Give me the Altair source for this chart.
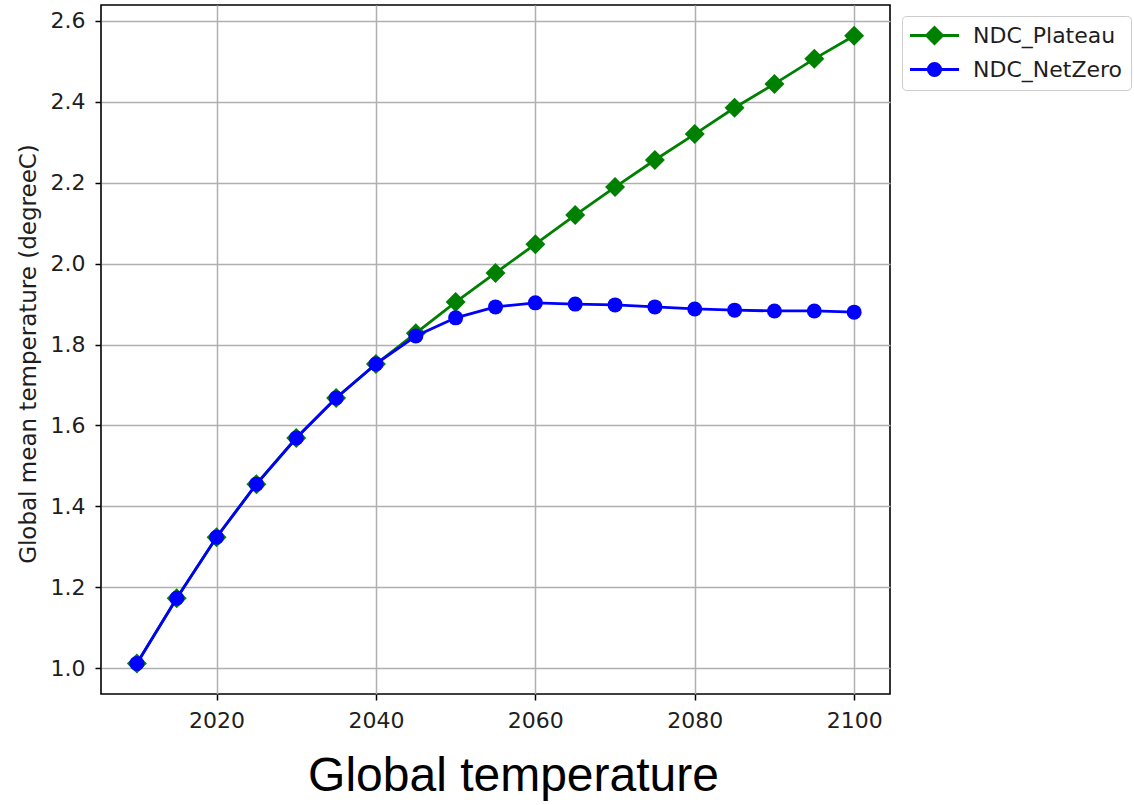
import altair as alt
import pandas as pd

years = [2010, 2015, 2020, 2025, 2030, 2035, 2040, 2045, 2050, 2055,
         2060, 2065, 2070, 2075, 2080, 2085, 2090, 2095, 2100]
plateau = [1.012, 1.173, 1.324, 1.455, 1.569, 1.668, 1.752, 1.828, 1.905, 1.977,
           2.048, 2.120, 2.189, 2.256, 2.320, 2.385, 2.444, 2.506, 2.563]
netzero = [1.012, 1.173, 1.324, 1.455, 1.569, 1.668, 1.752, 1.821, 1.866, 1.893,
           1.903, 1.900, 1.898, 1.893, 1.888, 1.885, 1.883, 1.883, 1.880]
series_names = ["NDC_Plateau", "NDC_NetZero"]
series_colors = ["green", "blue"]
x_ticks = [2020, 2040, 2060, 2080, 2100]
y_ticks = [1.0, 1.2, 1.4, 1.6, 1.8, 2.0, 2.2, 2.4, 2.6]

# legend glyphs: short line with the marker in its middle
legend_shapes = [
    "M-2.45,0H2.45M0,-0.8L0.8,0L0,0.8L-0.8,0Z",
    "M-2.45,0H2.45M0.62,0A0.62,0.62,0,1,1,-0.62,0A0.62,0.62,0,1,1,0.62,0Z",
]

df = pd.DataFrame({
    "year": years * 2,
    "temp": plateau + netzero,
    "series": [series_names[0]] * len(years) + [series_names[1]] * len(years),
})

FONT = "DejaVu Sans"
LABEL_COLOR = "#1e1e1e"

x = alt.X(
    "year:Q",
    scale=alt.Scale(domain=[2005.5, 2104.5], nice=False, zero=False),
    axis=alt.Axis(
        values=x_ticks, format="d", grid=True, domain=False,
        tickSize=6, tickWidth=1.5, tickColor="black",
        labelFont=FONT, labelFontSize=22, labelColor=LABEL_COLOR, labelPadding=10,
        labelFlush=False,
        title="Global temperature", titleFont="Liberation Sans", titleFontSize=48,
        titleFontWeight="normal", titleColor="black",
        titleX=412, titleY=96, titleAlign="center", titleBaseline="alphabetic",
    ),
)
y = alt.Y(
    "temp:Q",
    scale=alt.Scale(domain=[0.9365, 2.639], nice=False, zero=False),
    axis=alt.Axis(
        values=y_ticks, format=".1f", grid=True, domain=False,
        tickSize=6, tickWidth=1.5, tickColor="black",
        labelFont=FONT, labelFontSize=22, labelColor=LABEL_COLOR, labelPadding=10,
        labelFlush=False,
        title="Global mean temperature (degreeC)", titleFont=FONT, titleFontSize=23,
        titleFontWeight="normal", titleColor=LABEL_COLOR,
        titleAngle=270, titleX=-66, titleY=348.5, titleAlign="center",
        titleBaseline="alphabetic",
    ),
)

base = alt.Chart(df)

def series_layers(name, color, shape, size):
    sub = base.transform_filter(alt.datum.series == name)
    line = sub.mark_line(color=color, strokeWidth=2.8).encode(x=x, y=y)
    pts = sub.mark_point(shape=shape, filled=True, size=size, color=color,
                         opacity=1, strokeWidth=0).encode(x=x, y=y)
    return [line, pts]

legend = alt.Legend(
    title=None, orient="none", legendX=801, legendY=11, direction="vertical",
    padding=8, rowPadding=7, symbolSize=400, symbolOffset=13, labelOffset=27,
    symbolStrokeWidth=2.8, labelFont=FONT, labelFontSize=22, labelColor=LABEL_COLOR,
    labelLimit=400, strokeColor="#cccccc", fillColor="white", cornerRadius=4,
)

leg_layer = base.transform_filter("datum.year < 0").mark_point(
    filled=True, size=400, opacity=1, strokeWidth=2.8
).encode(
    x=x, y=y,
    fill=alt.Fill("series:N", scale=alt.Scale(domain=series_names, range=series_colors), legend=legend),
    stroke=alt.Stroke("series:N", scale=alt.Scale(domain=series_names, range=series_colors), legend=legend),
    shape=alt.Shape("series:N", scale=alt.Scale(domain=series_names, range=legend_shapes), legend=legend),
)

layers = (series_layers(series_names[0], series_colors[0], "diamond", 400)
          + series_layers(series_names[1], series_colors[1], "circle", 225)
          + [leg_layer])

chart = alt.layer(*layers).properties(
    width=789, height=689,
    autosize=alt.AutoSizeParams(type="none"),
    padding={"left": 101, "top": 5, "right": 244, "bottom": 111},
    background="white",
).configure_view(
    stroke="black", strokeWidth=1.6
).configure_axis(
    gridColor="#b0b0b0", gridWidth=1.5, gridOpacity=1
)

chart.save("out.html", embed_options={"renderer": "svg", "actions": False})
